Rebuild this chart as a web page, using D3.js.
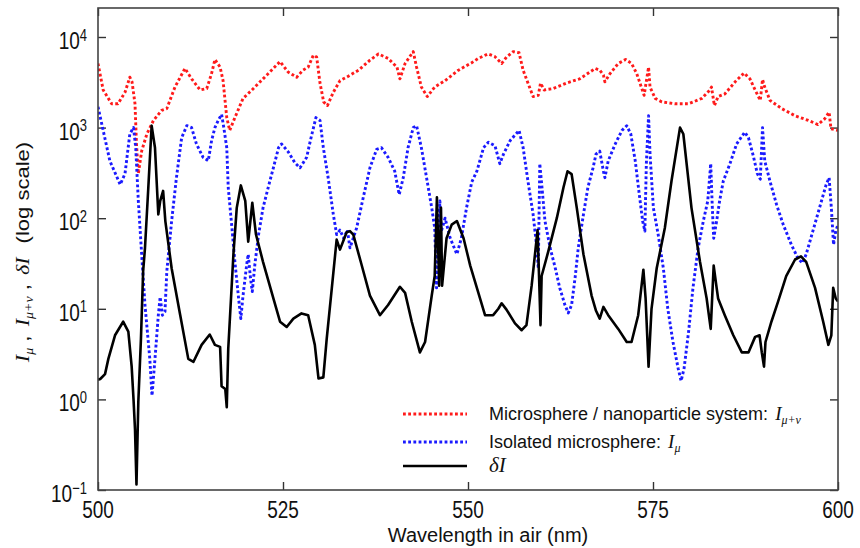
<!DOCTYPE html>
<html>
<head>
<meta charset="utf-8">
<script src="https://cdnjs.cloudflare.com/ajax/libs/d3/7.8.5/d3.min.js"></script>
<style>
body { margin: 0; background: #fff; }
svg text { font-family: "Liberation Sans", Arial, sans-serif; fill: #111; }
.math { font-family: "Liberation Serif", "Times New Roman", serif; font-style: italic; }
</style>
</head>
<body>
<div id="container"></div>
<script>
var wavelength_ticks = [500, 525, 550, 575, 600];
var decade_exponents = [-1, 0, 1, 2, 3, 4];

// [wavelength nm, intensity]
var i_mu_nu = [[500,5100],[500.7,2600],[501.85,1830],[502.7,1830],[503.65,2450],[504.3,3600],[504.6,3200],[505.0,1830],[505.2,660],[505.45,310],[505.9,550],[506.6,850],[507.5,1200],[508.6,1550],[509.3,1620],[510.4,2800],[511.75,4500],[512.65,3450],[513.8,2600],[514.7,2700],[515.35,3950],[515.8,5650],[516.5,4650],[516.9,3300],[517.4,1290],[517.8,930],[518.5,1290],[519.6,2100],[520.8,2600],[522.3,3450],[523.7,4500],[524.6,5350],[525.7,4100],[526.85,3600],[527.7,4300],[528.4,4650],[529.1,6300],[529.55,6000],[530.0,3100],[530.5,1920],[531.0,1750],[531.8,2450],[532.7,3300],[533.6,3600],[535.2,4300],[536.75,5550],[537.9,6500],[539.2,5800],[540.4,4650],[540.8,3450],[541.5,5100],[542.6,6900],[543.05,4650],[543.7,2800],[544.5,2200],[545.5,2800],[546.9,3300],[548.7,4300],[550.5,5200],[551.4,5800],[552.7,6500],[553.6,6100],[554.55,5100],[555.2,6000],[556.1,6900],[556.9,6700],[557.45,4300],[558.1,3100],[558.8,2200],[559.5,2270],[559.8,3100],[560.3,2600],[561.5,2700],[563.3,3100],[565.1,3450],[567.2,4500],[567.8,4300],[568.3,3800],[568.5,3200],[569.2,3950],[570.3,5100],[571.3,5650],[572.1,5100],[572.8,3950],[573.8,2270],[574.4,4650],[574.6,2800],[575.3,2100],[576.2,1920],[578,1830],[579.8,1830],[581.6,2100],[582.7,2600],[582.9,2800],[583.3,1750],[583.8,2200],[584.7,2350],[586.1,3200],[587.3,4000],[588.1,3450],[588.8,2600],[589.5,2000],[589.8,3400],[590.1,2800],[590.8,2000],[592.4,1620],[594.2,1350],[596,1200],[597.3,1080],[598.2,1250],[598.8,1480],[599.05,970],[600,930]];

var i_mu = [[500,1700],[500.7,930],[501.6,430],[503,235],[503.65,310],[504.3,850],[504.8,1000],[505.1,600],[505.45,155],[505.9,40],[506.35,11],[507.0,2.8],[507.3,1.1],[507.7,2.8],[508.15,8.5],[508.4,13.5],[508.7,8.5],[509.05,9.3],[509.3,26],[509.95,93],[510.6,280],[511.3,770],[512,1050],[512.65,1000],[513.3,660],[514.2,470],[514.9,430],[515.35,720],[515.8,1000],[516.25,1200],[516.7,1400],[517.0,1000],[517.4,600],[517.6,218],[518.1,78],[518.5,33],[519,13],[519.3,7.8],[519.6,14],[520.1,31],[520.3,40],[520.6,22],[520.85,15.5],[521.2,31],[521.7,66],[522.3,130],[523,218],[523.7,360],[524.4,600],[524.8,660],[525.7,540],[526.6,410],[527.3,360],[528.2,470],[528.7,720],[529.45,1290],[530,1200],[530.45,600],[531.1,280],[531.8,110],[532.25,66],[532.7,74],[533.2,60],[533.7,74],[534.05,47],[534.95,78],[535.85,170],[536.75,360],[537.65,575],[538.3,600],[539.2,470],[540.1,330],[540.7,182],[541.25,280],[541.9,600],[542.6,1000],[543.05,1050],[543.7,600],[544.4,280],[545.1,130],[545.5,78],[545.75,17],[546,66],[546.2,155],[546.4,72],[546.9,100],[547.6,60],[548.5,40],[549.1,60],[549.8,130],[550.5,250],[551.2,330],[552.1,600],[552.75,690],[553.65,630],[554.3,400],[554.8,510],[555.7,720],[556.9,930],[557.45,600],[558.1,257],[558.8,110],[559.3,47],[559.5,28],[559.7,400],[560,218],[560.4,93],[561.1,47],[561.8,28],[562.4,17],[563.1,11],[563.55,9],[564,11],[564.5,23],[564.9,47],[565.6,110],[566.2,218],[566.9,360],[567.3,510],[567.8,550],[568.3,330],[568.5,280],[568.95,430],[569.9,660],[570.8,930],[571.45,1050],[572.0,850],[572.6,430],[573.15,182],[573.6,93],[573.9,72],[574.1,400],[574.4,1350],[574.6,510],[575.05,130],[575.7,66],[576.4,28],[577,10],[577.7,4.3],[578.4,2.2],[578.8,1.6],[579.2,2.2],[579.8,5.5],[580.4,17],[581.1,47],[581.8,93],[582.4,155],[582.8,400],[583,141],[583.2,60],[583.6,93],[584,155],[584.5,257],[585.4,400],[586.3,660],[587.4,890],[587.9,775],[588.6,470],[589.1,310],[589.5,270],[589.8,1000],[590.1,430],[590.8,257],[591.7,141],[592.6,85],[593.7,51],[594.6,36],[595.2,32],[595.7,40],[596.6,72],[597.5,130],[598.4,235],[598.8,280],[599.1,130],[599.4,51],[599.7,72],[600,85]];

var delta_i = [[500,1.65],[500.3,1.68],[500.95,1.9],[501.4,2.8],[502.3,5.1],[503.4,7.2],[504.1,5.6],[504.55,2.3],[504.8,1.0],[505.0,0.47],[505.2,0.115],[505.45,0.95],[505.8,4.6],[506.1,26],[506.35,47],[506.8,218],[507.25,1050],[507.7,600],[508.15,110],[508.4,154],[508.8,200],[509.1,93],[509.95,28],[511.1,8.6],[512.2,2.8],[512.9,2.6],[514.0,4.0],[515.1,5.2],[515.8,4.0],[516.5,3.8],[516.7,1.4],[517.2,1.3],[517.4,0.82],[517.6,3.6],[518.3,40],[518.75,130],[519.3,230],[519.9,155],[520.3,55],[520.85,148],[521.35,66],[522.3,33],[523.7,13],[524.6,7.2],[525.5,6.3],[526.4,7.8],[527.5,8.9],[528.4,8.5],[529.3,4.0],[529.8,1.7],[530.45,1.75],[530.9,4.6],[531.6,17],[532.25,58],[532.7,45],[533.6,70],[534.05,72],[534.5,66],[535.6,31],[536.75,14],[538.1,8.5],[539.2,11],[540.8,17.5],[541.5,15],[542.4,7.2],[543.5,3.3],[544.2,4.3],[545.1,14],[545.5,23],[545.8,170],[546.1,18],[546.35,130],[546.5,18],[547.1,60],[547.8,85],[548.5,93],[549.4,60],[550.3,30],[551.2,17],[552.3,8.5],[553.4,8.5],[554.1,10],[554.55,11.5],[555.2,9.8],[556.35,6.9],[557.25,5.8],[557.9,6.6],[558.6,18],[559.4,74],[559.6,23],[559.8,6.6],[559.95,23],[560.85,43],[562.0,100],[562.9,218],[563.45,330],[564.0,307],[564.7,130],[565.6,40],[566.7,14],[567.3,9.5],[567.8,7.8],[568.3,10.5],[568.95,8.5],[570.3,6.0],[571.45,4.3],[572.1,4.3],[573.0,8.5],[573.7,27],[574.0,13],[574.4,2.3],[574.8,10],[575.5,28],[576.6,78],[577.5,257],[578.65,1000],[579.1,850],[580.2,130],[581.35,33],[582.25,13],[582.8,6.0],[583.2,30],[583.6,17],[583.8,13],[584.7,8.5],[585.85,5.1],[587.0,3.3],[587.9,3.3],[588.8,4.9],[589.4,5.1],[589.7,3.3],[590.0,2.3],[590.2,4.3],[591.0,7.2],[591.9,12],[593.0,23],[594.2,35],[595.0,38],[595.7,33],[596.9,17],[598.0,7.2],[598.7,4.0],[599.1,5.1],[599.35,17],[599.7,13],[600,12]];

var legend_labels = ["Microsphere / nanoparticle system:", "Isolated microsphere:", ""];
var legend_symbols = [["I", "\u03bc+\u03bd"], ["I", "\u03bc"], ["\u03b4I", ""]];

var init = function(){

    var container = d3.select("#container");
    container.html("");

    var width = 860, height = 548;
    var left = 98, right = 838, top = 8, bottom = 490;
    var tall = 1.3; // tick labels in the figure are drawn taller than the font

    var svg = container.append("svg")
	.attr("width", width)
	.attr("height", height);

    var x = d3.scaleLinear().domain([500, 600]).range([left, right]);
    var y = d3.scaleLog().domain([0.1, Math.pow(10, 4.32)]).range([bottom, top]);

    var decades = decade_exponents.map(function(e){ return Math.pow(10, e); });

    var add_axis = function(axis, tx, ty){
	var g = svg.append("g")
	    .attr("transform", "translate(" + tx + "," + ty + ")")
	    .call(axis.tickSize(-8).tickFormat(""));
	g.select(".domain").remove();
	g.selectAll(".tick line")
	    .attr("stroke", "#333")
	    .attr("stroke-width", 1.4);
    };
    add_axis(d3.axisBottom(x).tickValues(wavelength_ticks), 0, bottom);
    add_axis(d3.axisTop(x).tickValues(wavelength_ticks), 0, top);
    add_axis(d3.axisLeft(y).tickValues(decades), left, 0);
    add_axis(d3.axisRight(y).tickValues(decades), right, 0);

    svg.append("clipPath").attr("id", "plot-clip")
	.append("rect")
	.attr("x", left).attr("y", top)
	.attr("width", right - left).attr("height", bottom - top);

    var line = d3.line()
	.x(function(d){ return x(d[0]); })
	.y(function(d){ return y(d[1]); });

    var series = [
	{data: i_mu_nu, color: "#ff1a1a", dash: "2.8,2.4", width: 2.9},
	{data: i_mu, color: "#1a1aff", dash: "2.8,2.4", width: 2.9},
	{data: delta_i, color: "#000", dash: null, width: 2.6}
    ];

    var plot = svg.append("g").attr("clip-path", "url(#plot-clip)");
    series.forEach(function(s){
	plot.append("path")
	    .datum(s.data)
	    .attr("d", line)
	    .attr("fill", "none")
	    .attr("stroke", s.color)
	    .attr("stroke-width", s.width)
	    .attr("stroke-dasharray", s.dash)
	    .attr("stroke-linejoin", "round");
    });

    svg.append("rect")
	.attr("x", left).attr("y", top)
	.attr("width", right - left).attr("height", bottom - top)
	.attr("fill", "none")
	.attr("stroke", "#444")
	.attr("stroke-width", 1.6);

    // tick labels
    svg.append("g").selectAll("text")
	.data(wavelength_ticks)
	.enter().append("text")
	.attr("transform", function(d){
	    return "translate(" + x(d) + ",518) scale(1," + tall + ")";
	})
	.attr("text-anchor", "middle")
	.style("font-size", "19px")
	.text(function(d){ return d; });

    var ylabels = svg.append("g").selectAll("text")
	.data(decade_exponents)
	.enter().append("text")
	.attr("transform", function(e){
	    return "translate(" + (left - 11) + "," + (y(Math.pow(10, e)) + 12) + ") scale(1," + tall + ")";
	})
	.attr("text-anchor", "end")
	.style("font-size", "19px");
    ylabels.append("tspan").text("10");
    ylabels.append("tspan")
	.attr("dy", -6.5)
	.style("font-size", "13px")
	.text(function(e){ return e < 0 ? "\u2212" + (-e) : e; });

    // axis titles
    svg.append("text")
	.attr("x", 488).attr("y", 542)
	.attr("text-anchor", "middle")
	.style("font-size", "20px")
	.text("Wavelength in air (nm)");

    var ytitle = svg.append("text")
	.attr("transform", "translate(29,252) scale(1,1.16) rotate(-90)")
	.attr("text-anchor", "middle")
	.style("font-size", "19px");
    var math = function(t, s){
	t.append("tspan").attr("class", "math").text(s);
    };
    var sub = function(t, s){
	t.append("tspan").attr("class", "math").attr("dy", 4).style("font-size", "12px").text(s);
	t.append("tspan").attr("dy", -4).text(" ,");
    };
    math(ytitle, "I");
    sub(ytitle, "\u03bc");
    ytitle.append("tspan").attr("dx", 8).attr("class", "math").text("I");
    sub(ytitle, "\u03bc+\u03bd");
    ytitle.append("tspan").attr("dx", 8).attr("class", "math").text("\u03b4I");
    ytitle.append("tspan").attr("dx", 12).text("(log scale)");

    // legend
    var legend_y = [414, 442, 466];
    var legend = svg.append("g");
    series.forEach(function(s, i){
	legend.append("line")
	    .attr("x1", 403).attr("x2", 467)
	    .attr("y1", legend_y[i]).attr("y2", legend_y[i])
	    .attr("stroke", s.color)
	    .attr("stroke-width", s.width)
	    .attr("stroke-dasharray", s.dash);

	var t = legend.append("text")
	    .attr("x", 489).attr("y", legend_y[i] + 6)
	    .style("font-size", "18px");
	if (legend_labels[i] != "") {
	    t.append("tspan").text(legend_labels[i]);
	    t.append("tspan").attr("class", "math").attr("dx", 7)
		.style("font-size", "19px").text(legend_symbols[i][0]);
	    t.append("tspan").attr("class", "math").attr("dy", 4)
		.style("font-size", "12px").text(legend_symbols[i][1]);
	}
	else {
	    t.append("tspan").attr("class", "math")
		.style("font-size", "21px").text(legend_symbols[i][0]);
	}
    });
}

init();
</script>
</body>
</html>
